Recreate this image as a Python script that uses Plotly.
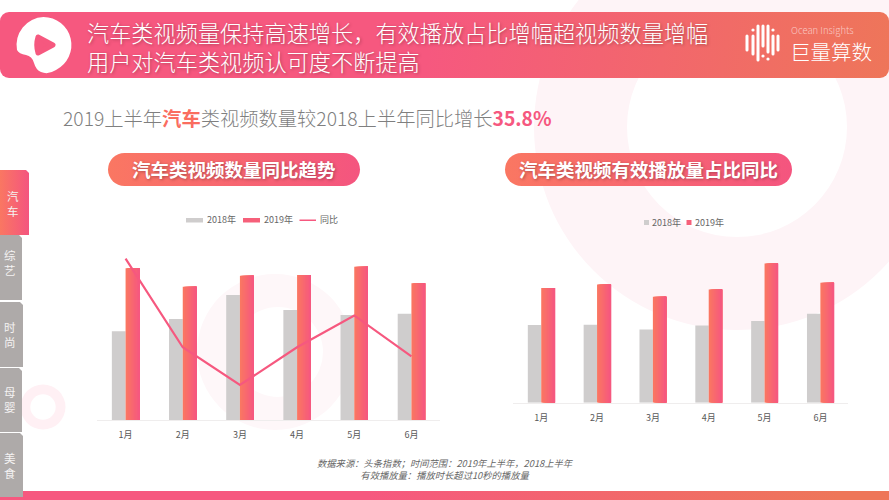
import base64
import plotly.graph_objects as go

W, H = 889, 500
months = ["1月", "2月", "3月", "4月", "5月", "6月"]
count_2018 = [88.7, 101, 125, 110, 105, 106.3]
count_2019 = [151.7, 133.3, 144.3, 145, 153.3, 136.7]
yoy_pct = [71, 32, 15.4, 32, 46, 28]
play_2018 = [77.7, 78, 73.3, 77.3, 81.7, 89]
play_2019 = [114.7, 118.3, 106, 113.3, 139.3, 120]
tabs = ["汽车", "综艺", "时尚", "母婴", "美食"]

FONT = "Noto Sans CJK SC"
PINK = "#f6587f"
CORAL = "#fa7762"
GRAY = "#cfcdcd"
BAR_W = 0.24
STEPS = 12


def hexmix(a, b, t):
    ca = [int(a[i:i + 2], 16) for i in (1, 3, 5)]
    cb = [int(b[i:i + 2], 16) for i in (1, 3, 5)]
    return "#" + "".join(f"{round(x + (y - x) * t):02x}" for x, y in zip(ca, cb))


def px(x):
    return x / W


def py(y):
    return 1 - y / H


logo_bars = [(747, 36, 50), (753, 36, 54), (758, 26, 60), (763, 26, 46),
             (768, 26, 52), (773, 36, 54), (778, 36, 50)]
logo_dots = [(753, 30), (763, 56), (773, 30), (768, 59)]
logo_svg = "".join(
    f'<line x1="{x}" y1="{a}" x2="{x}" y2="{b}" stroke="#fff" stroke-width="3" stroke-linecap="round"/>'
    for x, a, b in logo_bars)
logo_svg += "".join(f'<circle cx="{x}" cy="{y}" r="1.6" fill="#fff"/>' for x, y in logo_dots)

grey_tabs = [(235, 300, 22), (302, 367, 23), (368, 432, 22), (433, 497, 23)]
tab_svg = "".join(
    f'<path d="M0 {a}H{w - 3}L{w} {a + 3}V{b}H0Z" fill="#aeaaa9"/>' for a, b, w in grey_tabs)

svg = f'''<svg xmlns="http://www.w3.org/2000/svg" width="{W}" height="{H}" viewBox="0 0 {W} {H}">
<defs>
<linearGradient id="h" gradientUnits="userSpaceOnUse" x1="0" y1="0" x2="889" y2="120">
<stop offset="0" stop-color="#f6587f"/><stop offset="0.48" stop-color="#f6587f"/><stop offset="1" stop-color="#ee7659"/></linearGradient>
<linearGradient id="p"><stop offset="0" stop-color="#fa7762"/><stop offset="1" stop-color="#f4557f"/></linearGradient>
</defs>
<path fill-rule="evenodd" fill="#fef4f7" d="M534 127a203 203 0 1 0 406 0a203 203 0 1 0 -406 0ZM627 127a110 110 0 1 0 220 0a110 110 0 1 0 -220 0Z"/>
<path fill-rule="evenodd" fill="#fef7f9" d="M197 352a78 78 0 1 0 156 0a78 78 0 1 0 -156 0ZM233 352a45 45 0 1 0 90 0a45 45 0 1 0 -90 0Z"/>
<path fill-rule="evenodd" fill="#fff0f4" d="M20.500 407a22.500 22.500 0 1 0 45 0a22.500 22.500 0 1 0 -45 0ZM30.300 407a12.700 12.700 0 1 0 25.400 0a12.700 12.700 0 1 0 -25.400 0Z"/>
<rect x="0" y="12" width="889" height="66" rx="9" fill="url(#h)"/>
<rect x="0" y="491" width="889" height="9" fill="url(#h)"/>
<path fill="#fff" d="M43.500 17A28 28 0 0 1 56 70Q48 75 41 72Q36 70 34 63Q32 56 26 55Q19 54 17 50A28 28 0 0 1 43.500 17Z"/>
<path fill="{PINK}" stroke="{PINK}" stroke-width="5" stroke-linejoin="round" d="M38 37L53 45L38 53Q35.500 45 38 37Z"/>
{logo_svg}
<rect x="108" y="153" width="252" height="33" rx="16.500" fill="url(#p)"/>
<rect x="505" y="153" width="287" height="33" rx="16.500" fill="url(#p)"/>
<path d="M0 170H26L29 173V235H0Z" fill="url(#p)"/>
{tab_svg}
<rect x="0" y="491" width="22" height="6" fill="#aeaaa9"/>
</svg>'''
bg = "data:image/svg+xml;base64," + base64.b64encode(svg.encode()).decode()

fig = go.Figure()


def add_gradient_bars(values, xa, ya, name):
    for i in range(STEPS):
        start = BAR_W * i / STEPS
        fig.add_trace(go.Bar(
            x=months, y=values, xaxis=xa, yaxis=ya, name=name, showlegend=False,
            offset=start, width=BAR_W - start,
            marker=dict(color=hexmix(CORAL, PINK, i / (STEPS - 1)), line_width=0),
        ))


fig.add_trace(go.Bar(x=months, y=count_2018, xaxis="x", yaxis="y", name="2018年", showlegend=False,
                     offset=-BAR_W, width=BAR_W, marker=dict(color=GRAY, line_width=0)))
add_gradient_bars(count_2019, "x", "y", "2019年")
fig.add_trace(go.Scatter(x=months, y=yoy_pct, xaxis="x", yaxis="y3", name="同比", mode="lines",
                         showlegend=False, line=dict(color=PINK, width=2.2)))
fig.add_trace(go.Bar(x=months, y=play_2018, xaxis="x2", yaxis="y2", name="2018年", showlegend=False,
                     offset=-BAR_W, width=BAR_W, marker=dict(color=GRAY, line_width=0)))
add_gradient_bars(play_2019, "x2", "y2", "2019年")

ann = []


def text(x, y, s, size, color="#ffffff", anchor="left", **font):
    ann.append(dict(xref="paper", yref="paper", x=px(x), y=py(y), text=s, showarrow=False,
                    xanchor=anchor, yanchor="middle", align=anchor,
                    borderpad=0, font=dict(family=FONT, size=size, color=color, **font)))


SHADOW = "1px 1px 3px rgba(90,30,40,0.45)"
text(86, 46.5, "汽车类视频量保持高速增长\uff0c有效播放占比增幅超视频数量增幅<br>用户对汽车类视频认可度不断提高",
     22.2, shadow=SHADOW, weight=300)
text(790, 30.5, "Ocean Insights", 9.5, color="#f9c9c4", weight=300)
text(789, 51, "巨量算数", 20.5, weight=300)
text(62, 118, '2019上半年<span style="color:#fa6d5f"><b>汽车</b></span>类视频数量较2018上半年同比增长'
              '<span style="color:#f6587f"><b>35.8%</b></span>', 19.3, color="#7f7f7f", weight=300)
text(234, 169.5, "汽车类视频数量同比趋势", 18.5, anchor="center", weight=700, shadow=SHADOW)
text(648.5, 169.5, "汽车类视频有效播放量占比同比", 18.5, anchor="center", weight=700, shadow=SHADOW)
text(445, 468.7, "数据来源\uff1a头条指数\uff1b时间范围\uff1a2019年上半年\uff0c2018上半年<br>有效播放量\uff1a播放时长超过10秒的播放量",
     9.3, color="#666666", anchor="center", style="italic")

tab_x = [13, 10, 10, 10, 10]
tab_y = [204, 262, 334, 399, 465]
for lab, x, y in zip(tabs, tab_x, tab_y):
    text(x, y, lab[0] + "<br>" + lab[1], 11.5, color="#f4f2f2", anchor="center")

# legends
shapes = []


def rect(x0, y0, x1, y1, color):
    shapes.append(dict(type="rect", xref="paper", yref="paper", x0=px(x0), x1=px(x1),
                       y0=py(y0), y1=py(y1), fillcolor=color, line_width=0))


rect(186, 218, 203, 222.5, GRAY)
rect(243, 218, 260, 222.5, "#f6607a")
rect(299.5, 219.5, 316, 221, PINK)
text(205.5, 220, "2018年", 9, color="#666666")
text(262.5, 220, "2019年", 9, color="#666666")
text(319, 220, "同比", 9, color="#666666")
rect(644, 220, 649, 225, GRAY)
rect(686.5, 220, 691.5, 225, "#f6607a")
text(651, 222.5, "2018年", 9, color="#666666")
text(693.5, 222.5, "2019年", 9, color="#666666")

xa = dict(type="category", range=[-0.5, 5.5], showgrid=False, zeroline=False, showline=True,
          linecolor="#efeded", linewidth=1, ticks="", ticklabelstandoff=6,
          tickfont=dict(family=FONT, size=9, color="#595959"))
ya = dict(visible=False, showgrid=False, zeroline=False)

fig.update_layout(
    width=W, height=H, margin=dict(l=0, r=0, t=0, b=0), autosize=False,
    paper_bgcolor="white", plot_bgcolor="rgba(0,0,0,0)", barmode="overlay", showlegend=False,
    xaxis=dict(xa, domain=[px(97), px(440)], anchor="y"),
    yaxis=dict(ya, domain=[py(420), py(250)], range=[0, 170], anchor="x"),
    yaxis3=dict(ya, domain=[py(420), py(250)], range=[0, 74.8], anchor="x", overlaying="y", side="right"),
    xaxis2=dict(xa, domain=[px(513.3), px(848.3)], anchor="y2"),
    yaxis2=dict(ya, domain=[py(402.7), py(250)], range=[0, 152.7], anchor="x2"),
    annotations=ann, shapes=shapes,
    images=[dict(source=bg, xref="paper", yref="paper", x=0, y=1, sizex=1, sizey=1,
                 sizing="stretch", xanchor="left", yanchor="top", layer="below")],
)
fig.write_html("out.html", config=dict(displayModeBar=False),
               post_script="document.documentElement.style.margin='0';document.body.style.margin='0';document.body.style.overflow='hidden';")
